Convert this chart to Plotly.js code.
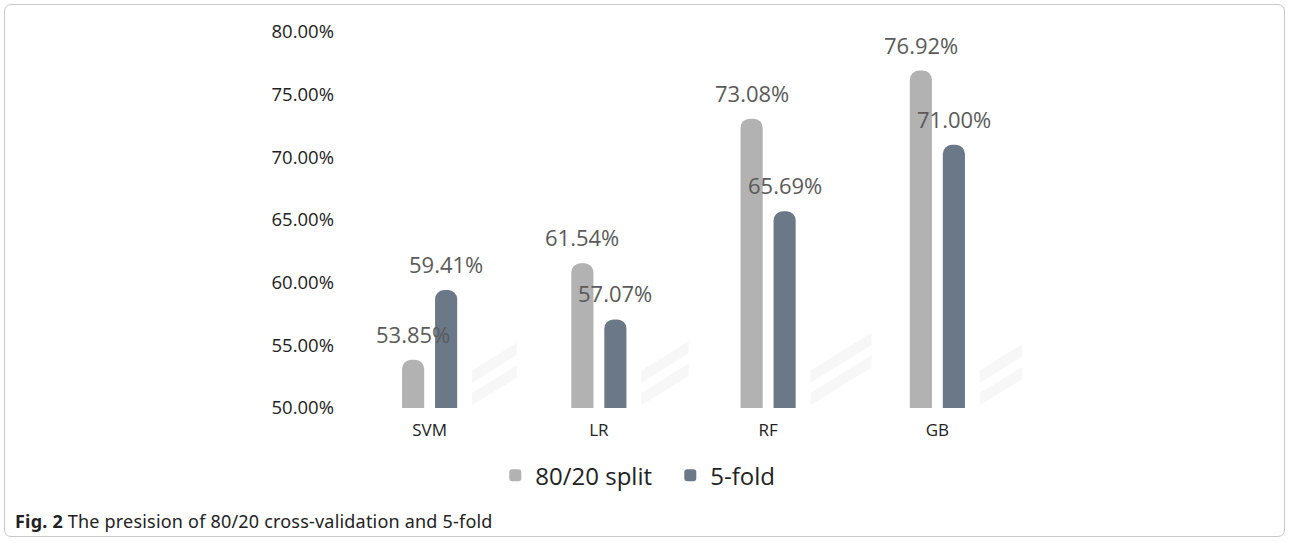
<!DOCTYPE html>
<html>
<head>
<meta charset="utf-8">
<script src="https://cdn.plot.ly/plotly-3.0.1.min.js"></script>
<style>
  html, body { margin: 0; padding: 0; background: #fff; }
  #frame { position: absolute; left: 4px; top: 4px; width: 1281px; height: 533px;
           border: 1px solid #c8c8c8; border-radius: 7px; box-sizing: border-box; }
  #plot { position: absolute; left: 0; top: 0; width: 1290px; height: 543px; }
  #caption { position: absolute; left: 15px; top: 509px; font-family: "Noto Sans", "Open Sans", sans-serif;
             font-size: 18px; color: #222; letter-spacing: 0.2px; }
  #caption b { font-weight: 700; }
</style>
</head>
<body>
<div id="frame"></div>
<div id="plot"></div>
<div id="caption"><b>Fig. 2</b> The presision of 80/20 cross-validation and 5-fold</div>
<script>
const categories = ["SVM", "LR", "RF", "GB"];
const split8020 = [53.85, 61.54, 73.08, 76.92];
const fold5 = [59.41, 57.07, 65.69, 71.00];
const tickVals = [50, 55, 60, 65, 70, 75, 80];
const tickText = ["50.00%", "55.00%", "60.00%", "65.00%", "70.00%", "75.00%", "80.00%"];

const fmt = v => v.toFixed(2) + "%";
const BARGAP = 0.61, GROUPGAP = 0.33;
const labelFont = {family: "Open Sans, Noto Sans, sans-serif", size: 22, color: "#5a5a5a"};

const traces = [
  {type: "bar", name: "80/20 split", x: categories, y: split8020,
   marker: {color: "#b2b2b2", cornerradius: 9}, hoverinfo: "x+y"},
  {type: "bar", name: "5-fold", x: categories, y: fold5,
   marker: {color: "#6a7888", cornerradius: 9}, hoverinfo: "x+y"}
];

// value labels above bars (positioned on a numeric overlay axis matching the category slots)
const slot = (1 - BARGAP) / 2;
const annotations = [];
[[split8020, -slot / 2], [fold5, slot / 2]].forEach(([vals, off]) => {
  vals.forEach((v, i) => {
    annotations.push({xref: "x2", yref: "y", x: i + off, y: v, text: fmt(v),
      showarrow: false, xanchor: "center", yanchor: "bottom", yshift: 9, font: labelFont});
  });
});

// faint diagonal reflections behind each pair of bars, derived from the data
const shapes = [];
categories.forEach((c, i) => {
  const vmax = Math.max(split8020[i], fold5[i]);
  const L = 0.2 + 0.007 * (vmax - 50);
  const H = L * 169 * 0.62 / 12.53;
  [[0.2, 1.2], [2.0, 3.0]].forEach(([lo, hi]) => {
    const x0 = i + 0.25;
    shapes.push({type: "path", xref: "x2", yref: "y", layer: "below",
      path: `M ${x0} ${50 + lo} L ${x0 + L} ${50 + lo + H} L ${x0 + L} ${50 + hi + H} L ${x0} ${50 + hi} Z`,
      fillcolor: "rgba(0,0,0,0.03)", line: {width: 0}});
  });
});

const layout = {
  width: 1290, height: 543,
  margin: {l: 345, r: 268, t: 32, b: 135},
  paper_bgcolor: "rgba(0,0,0,0)", plot_bgcolor: "rgba(0,0,0,0)",
  barmode: "group", bargap: BARGAP, bargroupgap: GROUPGAP,
  font: {family: "Open Sans, Noto Sans, sans-serif", color: "#222"},
  xaxis: {type: "category", showgrid: false, zeroline: false, showline: false, ticks: "",
          tickfont: {size: 17, color: "#222"}, ticklabelstandoff: 10, fixedrange: true},
  xaxis2: {overlaying: "x", range: [-0.5, 3.5], visible: false, fixedrange: true},
  yaxis: {range: [50, 80], tickvals: tickVals, ticktext: tickText, showgrid: false,
          zeroline: false, showline: false, ticks: "", tickfont: {size: 18.5, color: "#222"},
          ticklabelstandoff: 10, fixedrange: true},
  showlegend: true,
  legend: {orientation: "h", x: 0.222, xanchor: "left", y: -0.18, yanchor: "middle",
           font: {size: 24, color: "#222"}, itemwidth: 30, entrywidth: 130, traceorder: "normal"},
  annotations: annotations,
  shapes: shapes
};

traces.push({type: "scatter", x: [0], y: [50], xaxis: "x2", mode: "markers",
             marker: {opacity: 0}, showlegend: false, hoverinfo: "skip"});

Plotly.newPlot("plot", traces, layout, {displayModeBar: false, staticPlot: true});
</script>
</body>
</html>
